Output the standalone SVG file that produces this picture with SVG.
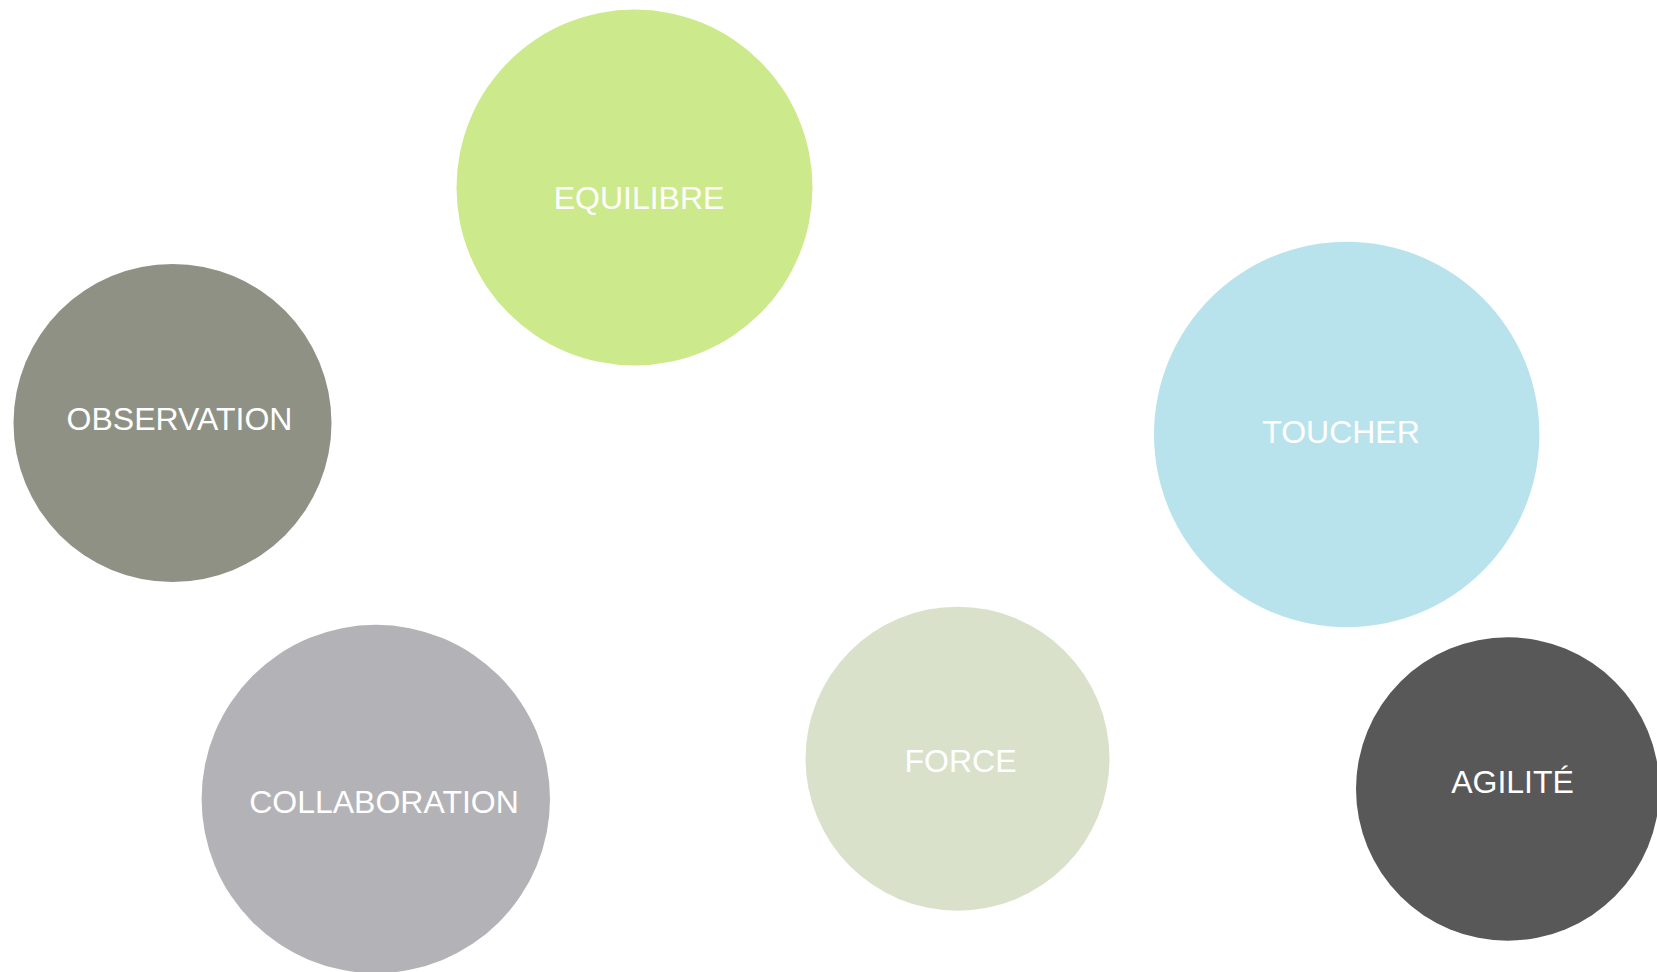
<svg xmlns="http://www.w3.org/2000/svg" width="1657" height="972" viewBox="0 0 1657 972">
<style>
.lbl{font-family:"Liberation Sans",Arial,sans-serif;font-size:32px;fill:#ffffff;text-anchor:middle}
</style>
<rect width="1657" height="972" fill="#ffffff"/>
<g id="connectors"></g>
<g id="equilibre"><circle cx="634.5" cy="187.5" r="178" fill="#CCEA8B"/><text class="lbl" x="639" y="209">EQUILIBRE</text></g>
<g id="observation"><circle cx="172.5" cy="423" r="159" fill="#8E9183"/><text class="lbl" x="179.5" y="430">OBSERVATION</text></g>
<g id="toucher"><circle cx="1346.7" cy="434.5" r="192.7" fill="#B8E3EC"/><text class="lbl" x="1341" y="442.7">TOUCHER</text></g>
<g id="collaboration"><circle cx="375.8" cy="799" r="174.2" fill="#B3B2B6"/><text class="lbl" x="384" y="813.3">COLLABORATION</text></g>
<g id="force"><circle cx="957.5" cy="758.7" r="152" fill="#DAE1CB"/><text class="lbl" x="960.5" y="772.3">FORCE</text></g>
<g id="agilite"><circle cx="1507.7" cy="789" r="151.7" fill="#585858"/><text class="lbl" x="1512.5" y="793.3">AGILITÉ</text></g>
</svg>
